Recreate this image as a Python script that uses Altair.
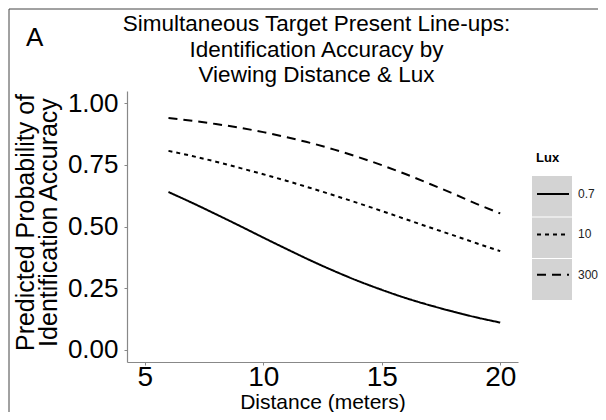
import altair as alt
import pandas as pd

# Values
distance = [6, 7, 8, 9, 10, 11, 12, 13, 14, 15, 16, 17, 18, 19, 20]
lux_07 = [0.64, 0.596, 0.55, 0.503, 0.455, 0.408, 0.362, 0.319, 0.279, 0.243, 0.21, 0.181, 0.155, 0.131, 0.11]
lux_10 = [0.807, 0.786, 0.763, 0.738, 0.712, 0.685, 0.656, 0.626, 0.595, 0.563, 0.53, 0.497, 0.465, 0.432, 0.40]
lux_300 = [0.94, 0.929, 0.916, 0.901, 0.883, 0.862, 0.839, 0.812, 0.782, 0.749, 0.713, 0.674, 0.634, 0.592, 0.553]
lux_levels = ["0.7", "10", "300"]
y_ticks = [0, 0.25, 0.5, 0.75, 1.0]
x_ticks = [5, 10, 15, 20]
title_lines = ["Simultaneous Target Present Line-ups:", "Identification Accuracy by",
               "Viewing Distance & Lux"]

rows = []
for lvl, series in zip(lux_levels, [lux_07, lux_10, lux_300]):
    for d, p in zip(distance, series):
        rows.append({"Distance": d, "Prob": p, "Lux": lvl})
df = pd.DataFrame(rows)

FONT = "Liberation Sans"
W, H = 391, 271

lines = alt.Chart(df).mark_line(color="black", strokeWidth=2, interpolate="monotone").encode(
    x=alt.X("Distance:Q",
            scale=alt.Scale(domain=[4.25, 20.75], nice=False, zero=False),
            axis=alt.Axis(values=x_ticks, format="d", grid=False, title="Distance (meters)",
                          labelFontSize=28, labelPadding=-2, tickSize=3,
                          titleFontSize=21, titleFontWeight="normal", titleBaseline="alphabetic",
                          titleY=46, titleX=W / 2)),
    y=alt.Y("Prob:Q",
            scale=alt.Scale(domain=[-0.05, 1.05], nice=False, zero=False),
            axis=alt.Axis(values=y_ticks, format=".2f", grid=False,
                          title=["Predicted Probability of", "Identification Accuracy"],
                          labelFontSize=26, labelPadding=6, tickSize=3,
                          titleFontSize=25, titleFontWeight="normal", titleBaseline="alphabetic",
                          titleAngle=270, titleAlign="center", titleX=-94, titleY=131,
                          titleLineHeight=23)),
    strokeDash=alt.StrokeDash("Lux:N",
                              scale=alt.Scale(domain=lux_levels, range=[[1, 0], [4, 4], [9, 6]]),
                              sort=lux_levels,
                              legend=alt.Legend(title="Lux", orient="none", legendX=409, legendY=61,
                                                titleFontSize=13, titleFontWeight="bold",
                                                titlePadding=12, labelFontSize=12, labelOffset=8,
                                                symbolSize=1024, symbolStrokeWidth=2,
                                                symbolStrokeColor="black", symbolType="stroke",
                                                rowPadding=17.4, padding=0, labelColor="#222",
                                                titleColor="black")),
)

one = pd.DataFrame({"k": [0]})

legend_bg = alt.Chart(one).mark_rect(color="#d3d3d3").encode(
    x=alt.value(405), x2=alt.value(445), y=alt.value(85), y2=alt.value(209))
sep1 = alt.Chart(one).mark_rule(color="white", strokeWidth=1).encode(
    x=alt.value(405), x2=alt.value(445), y=alt.value(126))
sep2 = alt.Chart(one).mark_rule(color="white", strokeWidth=1).encode(
    x=alt.value(405), x2=alt.value(445), y=alt.value(167.5))

frame_top = alt.Chart(one).mark_rule(color="#444", strokeWidth=1).encode(
    x=alt.value(-118), x2=alt.value(480), y=alt.value(-82))
frame_left = alt.Chart(one).mark_rule(color="#444", strokeWidth=1).encode(
    x=alt.value(-118), y=alt.value(-82), y2=alt.value(330))

panel = alt.Chart(pd.DataFrame({"t": ["A"]})).mark_text(
    font=FONT, fontSize=26, align="left", baseline="alphabetic", color="black").encode(
    x=alt.value(-101), y=alt.value(-45), text="t:N")

title = alt.Chart(pd.DataFrame({"t": ["\n".join(title_lines)]})).mark_text(
    font=FONT, fontSize=22.5, align="center", baseline="alphabetic", color="black",
    lineBreak="\n", lineHeight=25.5).encode(
    x=alt.value(W / 2 - 6), y=alt.value(-60), text="t:N")

chart = alt.layer(legend_bg, sep1, sep2, frame_top, frame_left, panel, title, lines).properties(
    width=W, height=H,
    autosize=alt.AutoSizeParams(type="none"),
    padding={"left": 119, "top": 83, "right": 80, "bottom": 50},
).configure(font=FONT).configure_view(stroke=None).configure_axis(
    domainColor="#888", tickColor="#888", labelColor="black", titleColor="black",
    labelFont=FONT, titleFont=FONT, domainWidth=1.2,
).configure_legend(labelFont=FONT, titleFont=FONT)

chart.save("out.html", embed_options={"renderer": "svg", "actions": False})
